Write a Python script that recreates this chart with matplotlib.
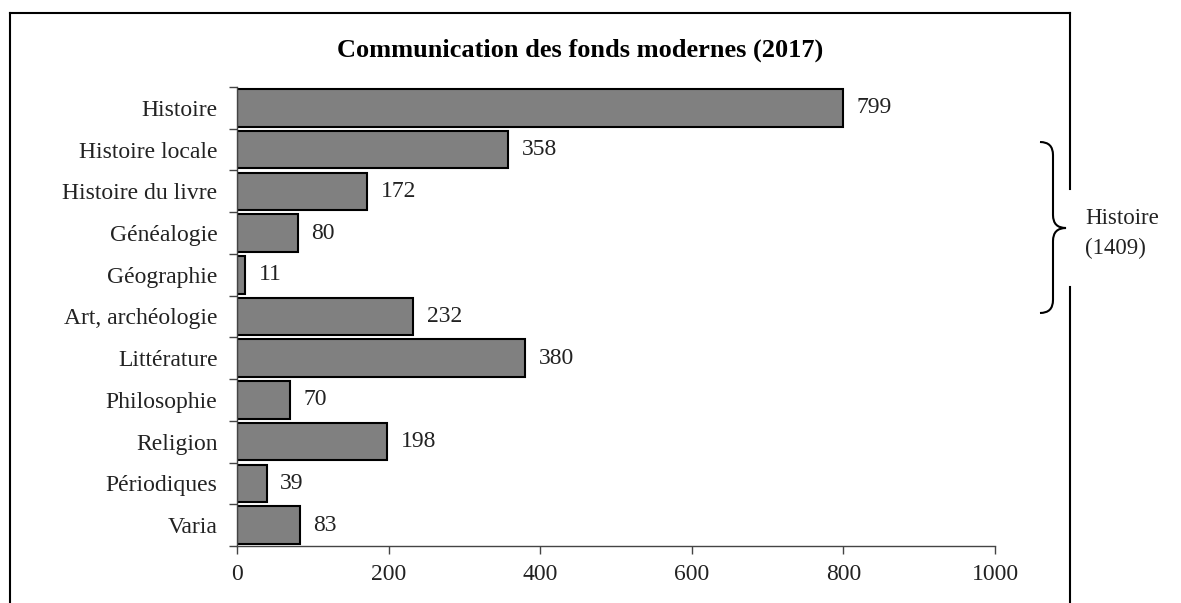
import matplotlib
matplotlib.use("Agg")
import matplotlib.pyplot as plt
from matplotlib.path import Path
from matplotlib.patches import PathPatch
from matplotlib.lines import Line2D

categories = ["Histoire", "Histoire locale", "Histoire du livre", "Généalogie",
              "Géographie", "Art, archéologie", "Littérature", "Philosophie",
              "Religion", "Périodiques", "Varia"]
values = [799, 358, 172, 80, 11, 232, 380, 70, 198, 39, 83]
xticks = [0, 200, 400, 600, 800, 1000]
title = "Communication des fonds modernes (2017)"
brace_label = ["Histoire", "(1409)"]

W, H = 1181, 603
plt.rcParams['font.family'] = ['Liberation Serif', 'DejaVu Serif']
fig = plt.figure(figsize=(W / 100, H / 100), dpi=100)
ax = fig.add_axes([237 / W, 1 - 546 / H, (995 - 237) / W, (546 - 87) / H])

FS = 17
TXT = "#222222"
n = len(categories)
ypos = list(range(n))
ax.barh(ypos, values, height=0.9, color="#808080", edgecolor="black", linewidth=1.5)
for y, v in zip(ypos, values):
    ax.text(v + 18, y, str(v), va="center", ha="left", fontsize=FS, color=TXT)

ax.set_ylim(n - 0.5, -0.5)
ax.set_xlim(0, 1000)
ax.set_yticks(ypos)
ax.set_yticklabels(categories, fontsize=FS, color=TXT)
ax.tick_params(axis="y", which="major", length=0, pad=14)
ax.set_yticks([i - 0.5 for i in range(n + 1)], minor=True)
ax.tick_params(axis="y", which="minor", length=6, width=1, color="#444444")
ax.set_xticks(xticks)
ax.set_xticklabels([str(t) for t in xticks], fontsize=FS, color=TXT)
ax.tick_params(axis="x", length=6, width=1, color="#444444", pad=7)
for s in ["top", "right"]:
    ax.spines[s].set_visible(False)
for s in ["left", "bottom"]:
    ax.spines[s].set_color("#444444")
    ax.spines[s].set_linewidth(1)

def px(x, y):
    return (x / W, 1 - y / H)

fig.text(580 / W, 1 - 50 / H, title, ha="center", va="center", fontsize=19, fontweight="bold")

# frame
frame_segments = [
    [(10, 13), (10, 603)],
    [(10, 13), (1070, 13)],
    [(1070, 13), (1070, 189)],
    [(1070, 287), (1070, 603)],
]
for seg in frame_segments:
    (x0, y0), (x1, y1) = seg
    fig.add_artist(Line2D([x0 / W, x1 / W], [1 - y0 / H, 1 - y1 / H],
                          transform=fig.transFigure, color="black", linewidth=1.5))

# brace
verts = [px(1040, 142), px(1053, 142), px(1053, 155),
         px(1053, 215),
         px(1053, 228), px(1066, 228),
         px(1053, 228), px(1053, 241),
         px(1053, 300),
         px(1053, 313), px(1040, 313)]
codes = [Path.MOVETO, Path.CURVE3, Path.CURVE3,
         Path.LINETO,
         Path.CURVE3, Path.CURVE3,
         Path.CURVE3, Path.CURVE3,
         Path.LINETO,
         Path.CURVE3, Path.CURVE3]
fig.add_artist(PathPatch(Path(verts, codes), transform=fig.transFigure,
                         fill=False, edgecolor="black", linewidth=1.5))
fig.text(1085 / W, 1 - 218 / H, brace_label[0], ha="left", va="center", fontsize=16.5, color=TXT)
fig.text(1085 / W, 1 - 248 / H, brace_label[1], ha="left", va="center", fontsize=16.5, color=TXT)

fig.savefig("out.png", dpi=100)
